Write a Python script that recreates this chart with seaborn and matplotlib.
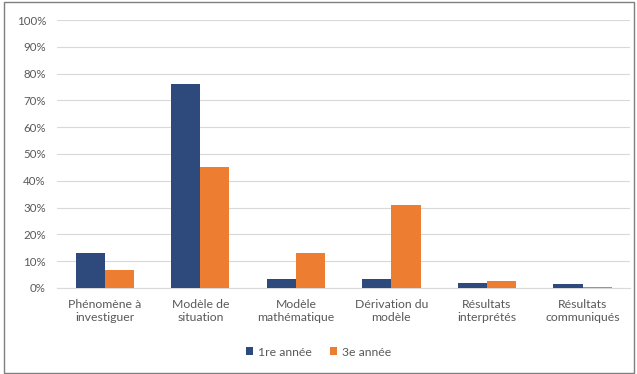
import matplotlib
matplotlib.use("Agg")
import matplotlib.pyplot as plt
import seaborn as sns
import pandas as pd
from matplotlib.patches import Rectangle
from matplotlib.ticker import PercentFormatter

categories = ["Phénomène à\ninvestiguer", "Modèle de\nsituation", "Modèle\nmathématique",
              "Dérivation du\nmodèle", "Résultats\ninterprétés", "Résultats\ncommuniqués"]
series_names = ["1re année", "3e année"]
annee1 = [13.1, 76.2, 3.4, 3.4, 1.7, 1.3]
annee3 = [6.7, 45.2, 13.1, 31.0, 2.6, 0.4]
yticks = [0, 10, 20, 30, 40, 50, 60, 70, 80, 90, 100]

df = pd.DataFrame({
    "cat": categories * 2,
    "serie": [series_names[0]] * len(categories) + [series_names[1]] * len(categories),
    "val": annee1 + annee3,
})

sns.set_theme(style="white")
plt.rcParams["font.family"] = ["Lato", "DejaVu Sans"]

fig = plt.figure(figsize=(6.37, 3.74), dpi=100)
ax = fig.add_axes([0.0895, 0.23, 0.9, 0.7165])
sns.barplot(data=df, x="cat", y="val", hue="serie", order=categories,
            hue_order=series_names, palette=["#2E4A7D", "#ED7D31"],
            width=0.61, saturation=1, ax=ax, errorbar=None, linewidth=0, zorder=3)

ax.set_ylim(0, 100)
ax.set_yticks(yticks)
ax.yaxis.set_major_formatter(PercentFormatter(decimals=0))
ax.grid(axis="y", color="#D9D9D9", linewidth=0.8, zorder=0)
ax.set_axisbelow(True)
for s in ["top", "right", "left"]:
    ax.spines[s].set_visible(False)
ax.spines["bottom"].set_color("#D9D9D9")
ax.spines["bottom"].set_linewidth(0.8)
ax.set_xlabel("")
ax.set_ylabel("")
ax.tick_params(axis="y", length=0, labelsize=8.3, labelcolor="#595959", pad=8)
ax.tick_params(axis="x", length=0, labelsize=8.8, labelcolor="#595959", pad=8)
ax.set_xlim(-0.5, len(categories) - 0.5)

leg = ax.legend(loc="center", bbox_to_anchor=(0.5, 1 - 352 / 374), bbox_transform=fig.transFigure,
                ncol=2, frameon=False, fontsize=8.8, handlelength=0.6, handleheight=0.6,
                columnspacing=1.5, handletextpad=0.4)
for t in leg.get_texts():
    t.set_color("#595959")

fig.patches.append(Rectangle((0.006, 0.004), 0.99, 0.99, transform=fig.transFigure,
                             fill=False, edgecolor="#7F7F7F", linewidth=1.0))

fig.savefig("out.png", dpi=100)
